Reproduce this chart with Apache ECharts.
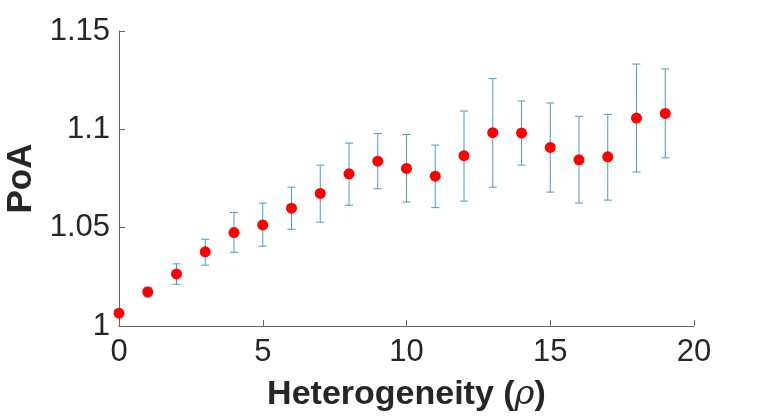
<!DOCTYPE html>
<html>
<head>
<meta charset="utf-8">
<script src="https://cdn.jsdelivr.net/npm/echarts@6/dist/echarts.min.js"></script>
<style>
  html, body { margin: 0; padding: 0; background: #fff; }
  #chart { width: 767px; height: 420px; }
</style>
</head>
<body>
<div id="chart"></div>
<script>
// heterogeneity values and mean PoA with error bar bounds
var rho = [0, 1, 2, 3, 4, 5, 6, 7, 8, 9, 10, 11, 12, 13, 14, 15, 16, 17, 18, 19];
var poaMean = [1.0065, 1.0173, 1.0265, 1.0377, 1.0475, 1.0514, 1.0599, 1.0674, 1.0774, 1.0838,
               1.0801, 1.0762, 1.0866, 1.0983, 1.0981, 1.0908, 1.0845, 1.0860, 1.1057, 1.1081];
var poaLow = [1.0062, 1.0148, 1.0212, 1.0309, 1.0375, 1.0406, 1.0492, 1.0528, 1.0614, 1.0698,
              1.0630, 1.0602, 1.0635, 1.0706, 1.0818, 1.0681, 1.0625, 1.0640, 1.0783, 1.0855];
var poaHigh = [1.0068, 1.0197, 1.0316, 1.0441, 1.0577, 1.0625, 1.0706, 1.0818, 1.0930, 1.0979,
               1.0974, 1.0920, 1.1093, 1.1258, 1.1144, 1.1134, 1.1066, 1.1076, 1.1332, 1.1307];

var xTicks = [0, 5, 10, 15, 20];
var yTicks = [1, 1.05, 1.1, 1.15];

var points = [];
var bars = [];
for (var i = 0; i < rho.length; i++) {
  points.push([rho[i], poaMean[i]]);
  bars.push([rho[i], poaLow[i], poaHigh[i]]);
}

var chart = echarts.init(document.getElementById('chart'));

var axisColor = '#262626';
var font = "'Liberation Sans', Arial, Helvetica, sans-serif";

var option = {
  backgroundColor: '#fff',
  animation: false,
  grid: { left: 119, right: 73, top: 31, bottom: 94, outerBoundsMode: 'none', containLabel: false },
  xAxis: {
    type: 'value',
    min: xTicks[0],
    max: xTicks[xTicks.length - 1],
    interval: 5,
    name: 'Heterogeneity ({i|ρ})',
    nameLocation: 'middle',
    nameGap: 52,
    nameTextStyle: {
      fontFamily: font, fontSize: 34, fontWeight: 'bold', color: axisColor,
      rich: {
        i: { fontFamily: "'DejaVu Serif', 'Liberation Serif', serif", fontSize: 34, fontStyle: 'italic', fontWeight: 'normal', color: axisColor }
      }
    },
    axisLine: { lineStyle: { color: '#666', width: 1 } },
    axisTick: { inside: true, length: 6, lineStyle: { color: '#666' } },
    axisLabel: { fontFamily: font, fontSize: 31, color: axisColor, margin: 11 },
    splitLine: { show: false }
  },
  yAxis: {
    type: 'value',
    min: yTicks[0],
    max: yTicks[yTicks.length - 1],
    interval: 0.05,
    name: 'PoA',
    nameLocation: 'middle',
    nameRotate: 90,
    nameGap: 80,
    nameTextStyle: { fontFamily: font, fontSize: 35, fontWeight: 'bold', color: axisColor },
    axisLine: { show: true, lineStyle: { color: '#666', width: 1 } },
    axisTick: { show: true, inside: true, length: 6, lineStyle: { color: '#666' } },
    axisLabel: {
      fontFamily: font, fontSize: 31, color: axisColor, margin: 9,
      formatter: function (v) { return String(+v.toFixed(2)); }
    },
    splitLine: { show: false }
  },
  series: [
    {
      name: 'errorbar',
      type: 'custom',
      data: bars,
      z: 2,
      renderItem: function (params, api) {
        var x = api.value(0);
        var lo = api.coord([x, api.value(1)]);
        var hi = api.coord([x, api.value(2)]);
        var cap = 4;
        var style = { stroke: '#4b98d0', lineWidth: 1 };
        return {
          type: 'group',
          children: [
            { type: 'line', shape: { x1: lo[0], y1: lo[1], x2: hi[0], y2: hi[1] }, style: style },
            { type: 'line', shape: { x1: lo[0] - cap, y1: lo[1], x2: lo[0] + cap, y2: lo[1] }, style: style },
            { type: 'line', shape: { x1: hi[0] - cap, y1: hi[1], x2: hi[0] + cap, y2: hi[1] }, style: style }
          ]
        };
      }
    },
    {
      name: 'PoA',
      type: 'scatter',
      data: points,
      z: 3,
      symbolSize: 11,
      itemStyle: { color: '#ff0000', opacity: 1 }
    }
  ]
};

chart.setOption(option);
</script>
</body>
</html>
